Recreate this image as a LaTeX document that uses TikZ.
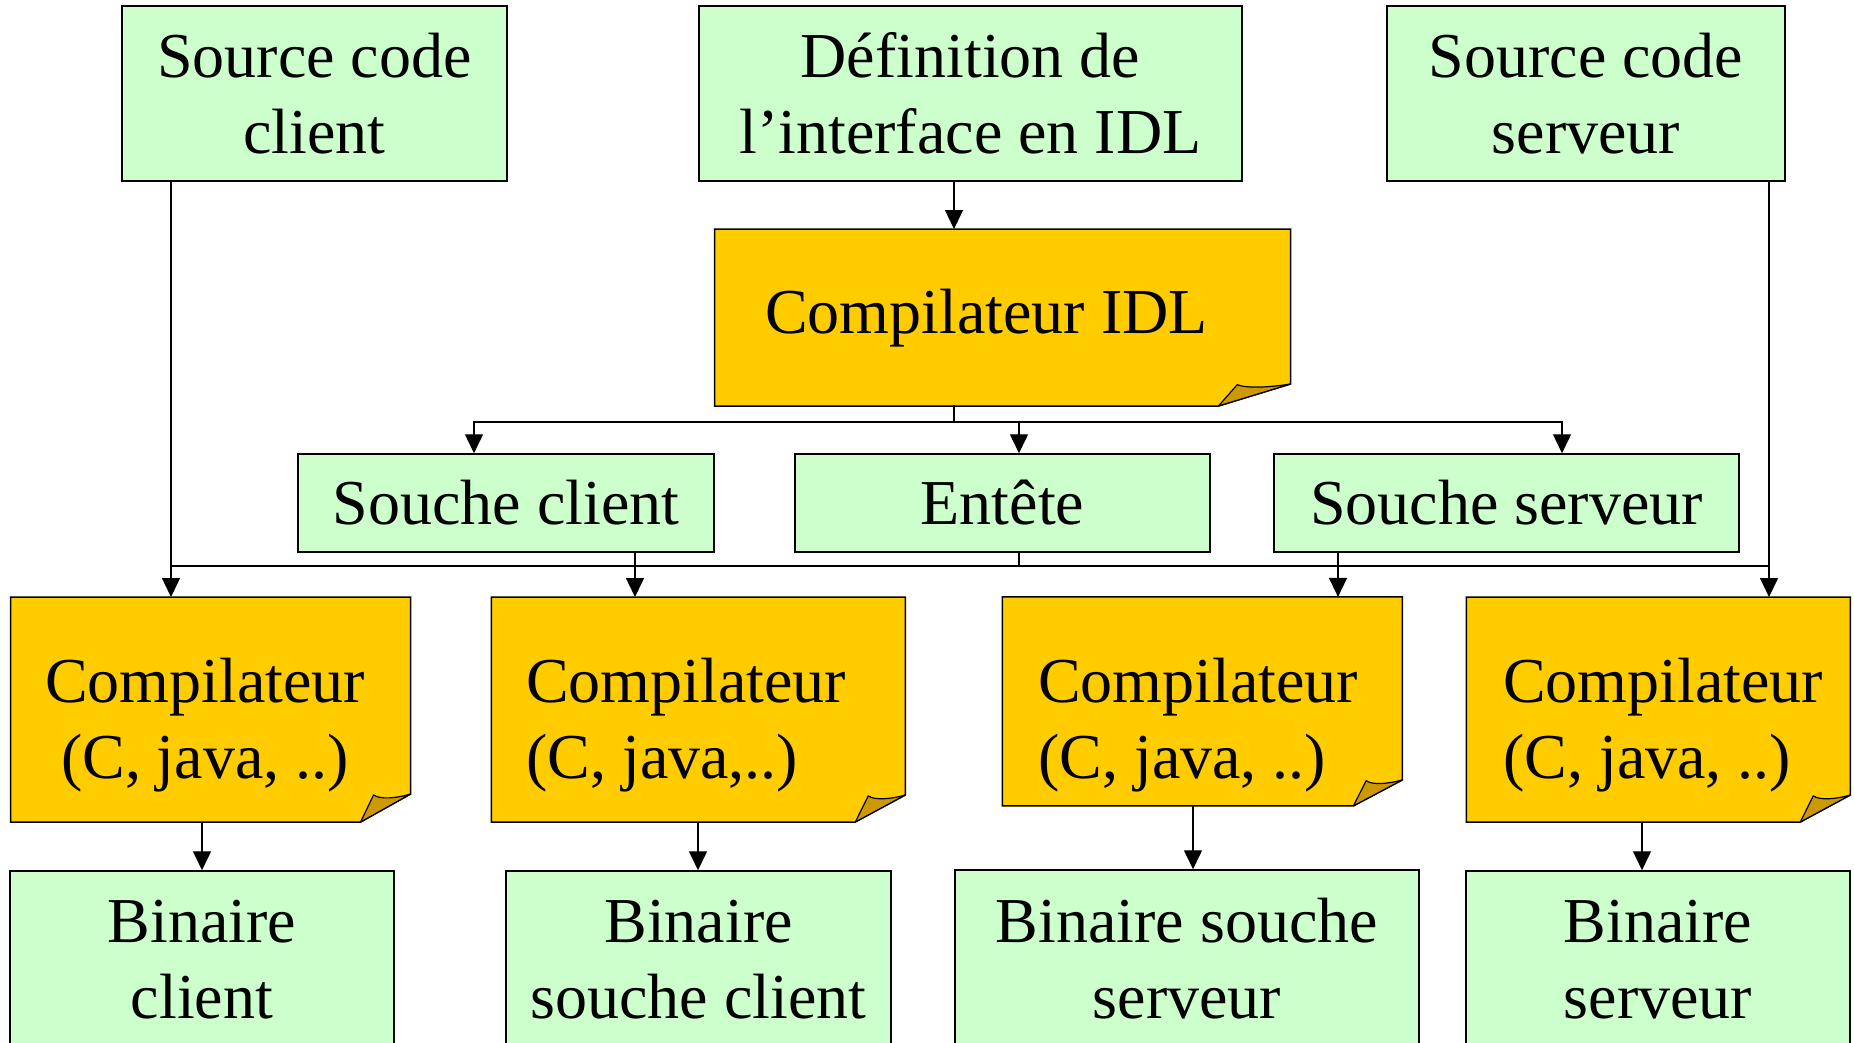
\documentclass[tikz,border=0pt]{standalone}
\usepackage{fontspec}
\setmainfont{Liberation Serif}
\usetikzlibrary{arrows.meta}

\definecolor{mint}{HTML}{CCFFCC}
\definecolor{gold}{HTML}{FFCC00}
\definecolor{goldfold}{HTML}{CC9900}

\tikzset{
  gbox/.style={draw=black, fill=mint, line width=1.5pt, inner sep=0pt,
               font=\fontsize{64}{76}\selectfont, align=center},
  frame/.style={inner sep=0pt, outer sep=0pt},
  bodyfill/.style={draw=black, fill=gold, line width=1.5pt},
  foldfill/.style={draw=black, fill=goldfold, line width=1.2pt, line join=round},
  lbl/.style={font=\fontsize{64}{76}\selectfont, inner sep=0pt, align=center},
  lbll/.style={lbl, align=left, anchor=west},
  wire/.style={line width=1.4pt, line cap=rect},
  arrow/.style={line width=1.4pt, -{Triangle[length=19pt,width=18pt]}},
}

% Yellow sheet with a curled lower-right corner, drawn over a frame node.
% #1 node name, #2 horizontal size of the curl, #3 vertical size of the curl
\newcommand\dogear[3]{%
  \draw[bodyfill] (#1.north west) -- (#1.north east)
    -- ([yshift=#3]#1.south east) -- ([xshift=-#2]#1.south east)
    -- (#1.south west) -- cycle;
  \draw[foldfill] ([xshift=-#2]#1.south east)
    -- ([xshift=-0.74*#2, yshift=0.97*#3]#1.south east)
    .. controls ([xshift=-0.62*#2, yshift=0.80*#3]#1.south east)
            and ([xshift=-0.30*#2, yshift=0.84*#3]#1.south east)
    .. ([yshift=#3]#1.south east) -- cycle;
}

\begin{document}
\begin{tikzpicture}[x=1pt, y=-1pt]
\useasboundingbox (0,0) rectangle (1854,1042);
\clip (0,0) rectangle (1854,1042);

% ---- inputs
\node[gbox, minimum width=385pt, minimum height=175pt] (srcc) at (314.5,93.5) {Source code\\client};
\node[gbox, minimum width=543pt, minimum height=175pt] (def)  at (970.5,93.5) {Définition de\\l’interface en IDL};
\node[gbox, minimum width=398pt, minimum height=175pt] (srcs) at (1586,93.5) {Source code\\serveur};

% ---- IDL compiler
\node[frame, minimum width=576pt, minimum height=177pt] (idl) at (1002.5,317.5) {};
\dogear{idl}{72pt}{22pt}
\node[lbl] (idl-t) at (986.5,318) {Compilateur IDL};

% ---- generated files
\node[gbox, minimum width=416pt, minimum height=98pt] (sc)  at (506,503)    {Souche client};
\node[gbox, minimum width=415pt, minimum height=98pt] (ent) at (1002.5,503) {Entête};
\node[gbox, minimum width=465pt, minimum height=98pt] (ss)  at (1506.5,503) {Souche serveur};

% ---- language compilers
\node[frame, minimum width=400pt, minimum height=225pt] (c1) at (210.6,709.5) {};
\node[frame, minimum width=414pt, minimum height=225pt] (c2) at (698.3,709.5) {};
\node[frame, minimum width=400pt, minimum height=209pt] (c3) at (1202.4,701.4) {};
\node[frame, minimum width=384pt, minimum height=225pt] (c4) at (1658.3,709.5) {};
\dogear{c1}{50pt}{28pt}
\dogear{c2}{50pt}{27pt}
\dogear{c3}{49pt}{26pt}
\dogear{c4}{50pt}{27pt}
\node[lbl]  (c1-t) at (205,725)  {Compilateur\\(C, java, ..)};
\node[lbll] (c2-t) at (526,725)  {Compilateur\\(C, java,..)};
\node[lbll] (c3-t) at (1038,725) {Compilateur\\(C, java, ..)};
\node[lbll] (c4-t) at (1503,725) {Compilateur\\(C, java, ..)};

% ---- binaries
\node[gbox, minimum width=384pt, minimum height=178pt] (b1) at (202,960)    {Binaire\\client};
\node[gbox, minimum width=385pt, minimum height=178pt] (b2) at (698.5,960)  {Binaire\\souche client};
\node[gbox, minimum width=464pt, minimum height=178pt] (b3) at (1187,959)   {Binaire souche\\serveur};
\node[gbox, minimum width=384pt, minimum height=178pt] (b4) at (1658,960)   {Binaire\\serveur};

% ---- junction points of the two buses
\coordinate (jIdl) at (954,422);
\coordinate (jSc)  at (474,422);
\coordinate (jEnt) at (1019,422);
\coordinate (jSs)  at (1562,422);
\coordinate (kCl)  at (171,566);
\coordinate (kSc)  at (635,566);
\coordinate (kEnt) at (1019,566);
\coordinate (kSs)  at (1338,566);
\coordinate (kSv)  at (1769,566);
\coordinate (oB1)  at (202,846);
\coordinate (oB2)  at (698,846);
\coordinate (oB3)  at (1193,846);
\coordinate (oB4)  at (1642,846);

% ---- IDL definition to IDL compiler
\draw[arrow] (def.south -| jIdl) -- (idl.north -| jIdl);

% ---- IDL compiler to generated files
\draw[wire] (idl.south -| jIdl) -- (jIdl);
\draw[wire] (jSc) -- (jSs);
\draw[arrow] (jSc)  -- (jSc |- sc.north);
\draw[arrow] (jEnt) -- (jEnt |- ent.north);
\draw[arrow] (jSs)  -- (jSs |- ss.north);

% ---- sources and generated files to the compilers
\draw[wire] (kCl) -- (kSv);
\draw[arrow] (srcc.south -| kCl) -- (c1.north -| kCl);
\draw[arrow] (sc.south -| kSc)   -- (c2.north -| kSc);
\draw[wire]  (ent.south -| kEnt) -- (kEnt);
\draw[arrow] (ss.south -| kSs)   -- (c3.north -| kSs);
\draw[arrow] (srcs.south -| kSv) -- (c4.north -| kSv);

% ---- compilers to binaries
\draw[arrow] (c1.south -| oB1) -- (b1.north -| oB1);
\draw[arrow] (c2.south -| oB2) -- (b2.north -| oB2);
\draw[arrow] (c3.south -| oB3) -- (b3.north -| oB3);
\draw[arrow] (c4.south -| oB4) -- (b4.north -| oB4);
\end{tikzpicture}
\end{document}
